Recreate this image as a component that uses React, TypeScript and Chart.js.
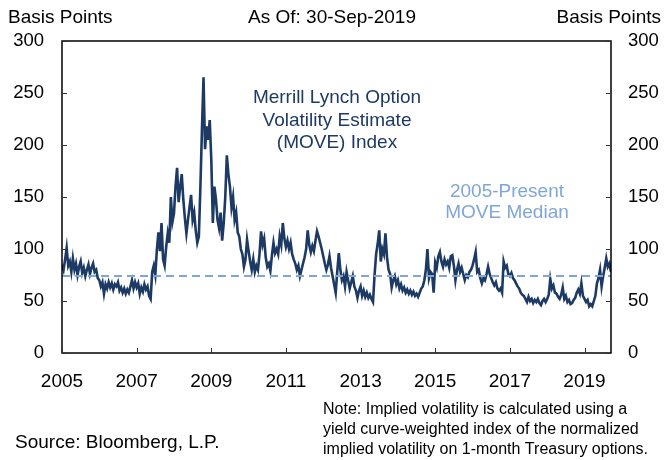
import React, { useEffect, useRef } from "react";
import { Chart, registerables } from "chart.js";

Chart.register(...registerables);

// MOVE index, semi-monthly readings (24 per year), basis points
const move2005 = [85, 80, 90, 101, 84, 88, 78, 91, 80, 86, 75, 83, 88, 77, 82, 74, 80, 85, 76, 82, 86, 78, 80, 72];
const move2006 = [70, 64, 68, 57, 66, 62, 68, 63, 67, 61, 66, 64, 68, 60, 63, 58, 62, 57, 61, 58, 64, 70, 62, 68];
const move2007 = [63, 67, 57, 63, 59, 66, 61, 64, 55, 52, 78, 84, 75, 99, 116, 98, 125, 90, 84, 102, 115, 106, 150, 126];
const move2008 = [134, 160, 178, 145, 160, 172, 148, 130, 115, 128, 140, 152, 128, 135, 118, 106, 112, 160, 215, 265, 196, 218, 205, 224];
const move2009 = [186, 125, 160, 148, 128, 120, 135, 108, 125, 150, 190, 172, 160, 140, 150, 128, 135, 116, 112, 100, 95, 83, 90, 109];
const move2010 = [98, 88, 80, 90, 78, 84, 80, 95, 117, 104, 110, 92, 83, 86, 79, 94, 106, 96, 100, 95, 112, 104, 125, 110];
const move2011 = [102, 108, 100, 106, 95, 90, 86, 80, 84, 74, 80, 86, 92, 100, 118, 104, 97, 103, 98, 108, 117, 112, 106, 100];
const move2012 = [93, 86, 80, 85, 93, 82, 74, 66, 58, 78, 96, 80, 70, 74, 64, 78, 70, 62, 68, 74, 64, 60, 53, 60];
const move2013 = [64, 55, 60, 54, 58, 53, 56, 52, 49, 75, 95, 105, 118, 88, 100, 95, 115, 92, 80, 76, 63, 70, 74, 66];
const move2014 = [70, 62, 66, 60, 63, 58, 61, 57, 60, 56, 59, 55, 57, 54, 58, 62, 64, 70, 80, 100, 72, 78, 76, 58];
const move2015 = [87, 82, 93, 97, 88, 83, 90, 85, 88, 82, 93, 94, 84, 70, 80, 86, 78, 82, 76, 70, 75, 73, 78, 80];
const move2016 = [84, 90, 97, 78, 80, 72, 67, 72, 70, 76, 83, 76, 72, 68, 65, 68, 62, 60, 62, 58, 88, 82, 84, 76];
const move2017 = [74, 77, 72, 70, 67, 64, 62, 58, 56, 55, 52, 49, 54, 50, 52, 48, 51, 49, 52, 48, 46, 50, 52, 49];
const move2018 = [52, 56, 71, 62, 65, 58, 57, 54, 52, 56, 63, 52, 55, 49, 51, 47, 48, 51, 53, 58, 61, 57, 67, 55];
const move2019 = [52, 49, 51, 45, 47, 45, 50, 55, 67, 72, 80, 64, 74, 82, 91, 83, 86, 78];

const yearBlocks = [
  move2005, move2006, move2007, move2008, move2009, move2010, move2011, move2012,
  move2013, move2014, move2015, move2016, move2017, move2018, move2019,
];
const firstYear = 2005;
const medianValue = 74; // 2005-Present MOVE median
const xMin = 2005;
const xMax = 2019.71; // 30-Sep-2019
const xTickYears = [2005, 2007, 2009, 2011, 2013, 2015, 2017, 2019];
const yTickValues = [0, 50, 100, 150, 200, 250, 300];

const NAVY = "#1C3A64";
const LIGHT = "#7FA6D8";
const FONT = "'Liberation Sans', Arial, Helvetica, sans-serif";

export default function App() {
  const ref = useRef<HTMLCanvasElement | null>(null);

  useEffect(() => {
    const canvas = ref.current;
    if (!canvas) return;

    const points: { x: number; y: number }[] = [];
    yearBlocks.forEach((vals, bi) => {
      vals.forEach((v, i) => points.push({ x: firstYear + bi + i / 24, y: v }));
    });

    const framePlugin = {
      id: "frameAndText",
      afterDraw(chart: any) {
        const { ctx, chartArea: a, scales } = chart;
        ctx.save();
        const line = (x1: number, y1: number, x2: number, y2: number) => {
          ctx.beginPath();
          ctx.moveTo(x1, y1);
          ctx.lineTo(x2, y2);
          ctx.stroke();
        };
        ctx.strokeStyle = "#000";
        ctx.lineWidth = 1.5;
        ctx.strokeRect(a.left, a.top, a.right - a.left, a.bottom - a.top);
        ctx.lineWidth = 1;
        ctx.strokeStyle = "#333";
        yTickValues.forEach((v) => {
          const py = Math.round(scales.y.getPixelForValue(v)) + 0.5;
          line(a.left, py, a.left + 5, py);
          line(a.right - 5, py, a.right, py);
        });
        xTickYears.forEach((v) => {
          const px = Math.round(scales.x.getPixelForValue(v)) + 0.5;
          line(px, a.bottom, px, a.bottom - 5);
        });

        ctx.textBaseline = "middle";
        ctx.fillStyle = "#000";
        ctx.font = `19px ${FONT}`;
        ctx.textAlign = "left";
        ctx.fillText("Basis Points", 8, 18);
        ctx.textAlign = "center";
        ctx.fillText("As Of: 30-Sep-2019", 332, 18);
        ctx.textAlign = "right";
        ctx.fillText("Basis Points", 661, 18);

        ctx.fillStyle = NAVY;
        ctx.textAlign = "center";
        ctx.fillText("Merrill Lynch Option", 337, 98);
        ctx.fillText("Volatility Estimate", 337, 121);
        ctx.fillText("(MOVE) Index", 337, 143);

        ctx.fillStyle = LIGHT;
        ctx.fillText("2005-Present", 507, 192);
        ctx.fillText("MOVE Median", 507, 213);

        ctx.fillStyle = "#000";
        ctx.font = `16px ${FONT}`;
        ctx.textAlign = "left";
        ctx.fillText("Note: Implied volatility is calculated using a", 323, 410);
        ctx.fillText("yield curve-weighted index of the normalized", 323, 430);
        ctx.fillText("implied volatility on 1-month Treasury options.", 323, 450);
        ctx.font = `19px ${FONT}`;
        ctx.fillText("Source: Bloomberg, L.P.", 15, 443);
        ctx.restore();
      },
    };

    const xTickFont = { family: FONT, size: 19 };
    const yTickFont = { family: FONT, size: 18.5 };

    const chart = new Chart(canvas, {
      type: "line",
      data: {
        datasets: [
          {
            data: [
              { x: xMin, y: medianValue },
              { x: xMax, y: medianValue },
            ],
            borderColor: LIGHT,
            borderWidth: 2,
            borderDash: [8, 5],
            pointRadius: 0,
            yAxisID: "y",
          },
          {
            data: points,
            borderColor: NAVY,
            borderWidth: 2.6,
            pointRadius: 0,
            tension: 0,
            yAxisID: "y",
          },
        ],
      },
      options: {
        animation: false,
        responsive: false,
        maintainAspectRatio: false,
        layout: { padding: { top: 41, left: 0, right: 0, bottom: 0 } },
        plugins: { legend: { display: false }, tooltip: { enabled: false } },
        scales: {
          x: {
            type: "linear",
            min: xMin,
            max: xMax,
            grid: { display: false, drawTicks: false },
            border: { display: false },
            afterBuildTicks: (s: any) => {
              s.ticks = xTickYears.map((v) => ({ value: v }));
            },
            afterFit: (s: any) => {
              s.height = 107;
            },
            ticks: {
              autoSkip: false,
              maxRotation: 0,
              padding: 17,
              color: "#000",
              font: xTickFont,
              callback: (v: any) => String(v),
            },
          },
          y: {
            position: "left",
            min: 0,
            max: 300,
            grid: { display: false, drawTicks: false },
            border: { display: false },
            afterBuildTicks: (s: any) => {
              s.ticks = yTickValues.map((v) => ({ value: v }));
            },
            afterFit: (s: any) => {
              s.width = 62;
            },
            ticks: { padding: 18, color: "#000", font: yTickFont, callback: (v: any) => String(v) },
          },
          y2: {
            position: "right",
            min: 0,
            max: 300,
            grid: { display: false, drawTicks: false },
            border: { display: false },
            afterBuildTicks: (s: any) => {
              s.ticks = yTickValues.map((v) => ({ value: v }));
            },
            afterFit: (s: any) => {
              s.width = 55;
            },
            ticks: { padding: 17, color: "#000", font: yTickFont, callback: (v: any) => String(v) },
          },
        },
      },
      plugins: [framePlugin],
    } as any);

    return () => chart.destroy();
  }, []);

  return (
    <div style={{ position: "absolute", left: 0, top: 0, width: 666, height: 460, background: "#fff" }}>
      <canvas ref={ref} width={666} height={460} style={{ width: 666, height: 460, display: "block" }} />
    </div>
  );
}
